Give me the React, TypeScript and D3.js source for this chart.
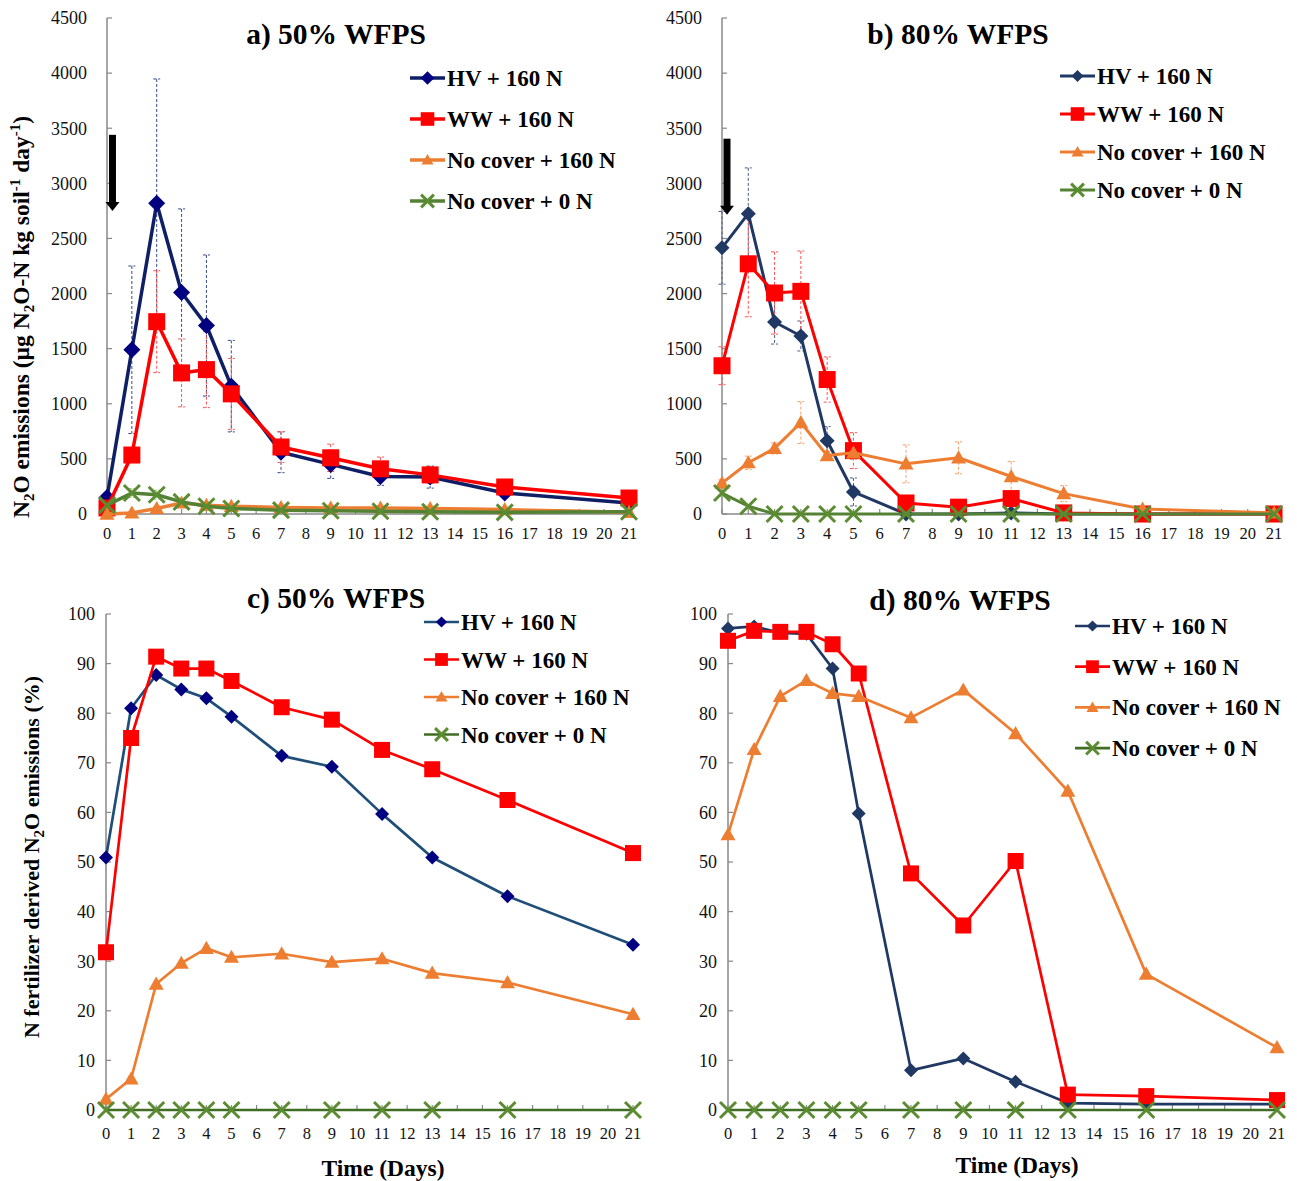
import React from 'react';
import * as d3 from 'd3';

// ---------- DATA ----------
const days = [0, 1, 2, 3, 4, 5, 7, 9, 11, 13, 16, 21];
const xTickLabels = ['0','1','2','3','4','5','6','7','8','9','10','11','12','13','14','15','16','17','18','19','20','21'];
const emissionTicks = [0, 500, 1000, 1500, 2000, 2500, 3000, 3500, 4000, 4500];
const percentTicks = [0, 10, 20, 30, 40, 50, 60, 70, 80, 90, 100];
const seriesNames = ['HV + 160 N', 'WW + 160 N', 'No cover + 160 N', 'No cover + 0 N'];

// a) 50% WFPS – N2O emissions
const aHV = [150, 1490, 2820, 2010, 1710, 1160, 560, 450, 340, 335, 190, 100];
const aWW = [55, 535, 1745, 1280, 1310, 1090, 608, 510, 410, 355, 245, 145];
const aNC160 = [0, 10, 50, 100, 80, 70, 60, 55, 55, 50, 40, 15];
const aNC0 = [80, 190, 175, 110, 70, 50, 35, 30, 25, 20, 15, 20];
const aHVErr = [40, 760, 1127, 758, 640, 415, 185, 127, 80, 100, 30, 20];
const aWWErr = [30, 50, 462, 308, 345, 322, 140, 124, 107, 77, 30, 20];
const aNC160Err = [10, 10, 20, 30, 25, 20, 20, 20, 20, 20, 15, 10];
const aNC0Err = [20, 40, 40, 30, 20, 15, 10, 10, 10, 10, 5, 5];

// b) 80% WFPS – N2O emissions
const bHV = [2415, 2725, 1742, 1615, 665, 200, 0, 0, 10, 0, 0, 0];
const bWW = [1345, 2270, 2005, 2020, 1220, 575, 100, 62, 140, 10, 0, 0];
const bNC160 = [280, 465, 595, 830, 530, 555, 455, 510, 340, 185, 45, 10];
const bNC0 = [190, 70, 0, 0, 0, 0, 0, 0, 0, 0, 0, 0];
const bHVErr = [330, 415, 200, 136, 128, 127, 10, 10, 10, 0, 0, 0];
const bWWErr = [172, 481, 373, 366, 205, 163, 30, 20, 40, 10, 0, 0];
const bNC160Err = [30, 60, 50, 190, 40, 60, 172, 145, 136, 72, 20, 10];
const bNC0Err = [30, 20, 0, 0, 0, 0, 0, 0, 0, 0, 0, 0];

// c) 50% WFPS – fertilizer-derived share (%)
const cHV = [50.9, 81.0, 87.7, 84.8, 83.0, 79.3, 71.4, 69.2, 59.7, 50.9, 43.1, 33.3];
const cWW = [31.8, 75.0, 91.4, 89.0, 89.0, 86.5, 81.2, 78.7, 72.6, 68.7, 62.5, 51.8];
const cNC160 = [2.2, 6.3, 25.4, 29.6, 32.6, 30.8, 31.5, 29.8, 30.5, 27.6, 25.7, 19.3];
const cNC0 = [0, 0, 0, 0, 0, 0, 0, 0, 0, 0, 0, 0];

// d) 80% WFPS – fertilizer-derived share (%)
const dHV = [97.1, 97.5, 96.2, 96.0, 89.0, 59.8, 8.0, 10.4, 5.7, 1.4, 1.2, 1.2];
const dWW = [94.6, 96.6, 96.4, 96.4, 93.9, 88.0, 47.7, 37.2, 50.2, 3.1, 2.8, 2.0];
const dNC160 = [55.5, 72.7, 83.4, 86.6, 84.0, 83.4, 79.1, 84.7, 75.9, 64.3, 27.4, 12.6];
const dNC0 = [0, 0, 0, 0, 0, 0, 0, 0, 0, 0, 0, 0];

// fertilizer application arrows [day, top value, tip value]
const aArrow = [0.22, 3440, 2750];
const bArrow = [0.19, 3405, 2715];

// ---------- STYLE ----------
const FONT = '"Liberation Serif", "Times New Roman", serif';
const AXIS = '#888888';
const ORANGE = '#ED7D31';
const RED = '#FF0000';
const GREEN_M = '#5B8C32';

type Series = {
  values: number[];
  err?: number[];
  kind: 'diamond' | 'square' | 'triangle' | 'cross';
  line: string;
  marker: string;
  errColor?: string;
};

type PanelCfg = {
  title: string;
  titleX: number;
  titleY: number;
  xRange: [number, number];
  yRange: [number, number];
  yMax: number;
  yTicks: number[];
  yLabelRight: number;
  xLabelY: number;
  series: Series[];
  legend: { x: number; y0: number; dy: number };
  arrow?: number[];
  lw: number;
  ms: { diamond: number; square: number; triangle: number; cross: number };
};

function Marker({ kind, x, y, s, color }: { kind: string; x: number; y: number; s: number; color: string }) {
  if (kind === 'diamond') {
    return <path d={`M${x},${y - s}L${x + s},${y}L${x},${y + s}L${x - s},${y}Z`} fill={color} />;
  }
  if (kind === 'square') {
    return <rect x={x - s} y={y - s} width={2 * s} height={2 * s} fill={color} />;
  }
  if (kind === 'triangle') {
    return <path d={`M${x},${y - s}L${x + s},${y + s * 0.75}L${x - s},${y + s * 0.75}Z`} fill={color} />;
  }
  return (
    <g stroke={color} strokeWidth={3}>
      <line x1={x - s} y1={y - s} x2={x + s} y2={y + s} />
      <line x1={x - s} y1={y + s} x2={x + s} y2={y - s} />
    </g>
  );
}

function Panel({ cfg }: { cfg: PanelCfg }) {
  const x = d3.scaleLinear().domain([0, 21]).range(cfg.xRange);
  const y = d3.scaleLinear().domain([0, cfg.yMax]).range(cfg.yRange);
  const line = d3
    .line<number>()
    .x((_, i) => x(days[i]))
    .y((v) => y(v));
  const y0 = y(0);
  const xTickVals = xTickLabels.map((t) => +t);

  return (
    <g>
      {/* axes */}
      <line x1={x(0)} y1={y(0)} x2={x(0)} y2={y(cfg.yMax)} stroke={AXIS} strokeWidth={1.5} />
      <line x1={x(0)} y1={y0} x2={x(21)} y2={y0} stroke={AXIS} strokeWidth={1.5} />
      {cfg.yTicks.map((t) => (
        <g key={'yt' + t}>
          <line x1={x(0)} x2={x(0) + 5} y1={y(t)} y2={y(t)} stroke={AXIS} strokeWidth={1.2} />
          <text x={cfg.yLabelRight} y={y(t)} dy="0.35em" textAnchor="end" fontSize={18} fontFamily={FONT} fill="#111">
            {t}
          </text>
        </g>
      ))}
      {xTickVals.map((t, i) => (
        <g key={'xt' + t}>
          <line x1={x(t)} x2={x(t)} y1={y0} y2={y0 - 5} stroke={AXIS} strokeWidth={1.2} />
          <text x={x(t)} y={cfg.xLabelY} dy="0.35em" textAnchor="middle" fontSize={16.5} fontFamily={FONT} fill="#111">
            {xTickLabels[i]}
          </text>
        </g>
      ))}

      {/* error bars */}
      {cfg.series.map((s, si) =>
        s.err
          ? s.values.map((v, i) => {
              const e = s.err![i];
              if (!e) return null;
              const cx = x(days[i]);
              const top = y(v + e);
              const bot = y(Math.max(0, v - e));
              return (
                <g key={`e${si}-${i}`} stroke={s.errColor} strokeWidth={1} strokeDasharray="3,2" fill="none">
                  <line x1={cx} x2={cx} y1={top} y2={bot} />
                  <line x1={cx - 3.5} x2={cx + 3.5} y1={top} y2={top} />
                  <line x1={cx - 3.5} x2={cx + 3.5} y1={bot} y2={bot} />
                </g>
              );
            })
          : null
      )}

      {/* series */}
      {cfg.series.map((s, si) => (
        <g key={'s' + si}>
          <path d={line(s.values) || ''} fill="none" stroke={s.line} strokeWidth={cfg.lw} strokeLinejoin="round" />
          {s.values.map((v, i) => (
            <Marker key={i} kind={s.kind} x={x(days[i])} y={y(v)} s={cfg.ms[s.kind]} color={s.marker} />
          ))}
        </g>
      ))}

      {/* arrow */}
      {cfg.arrow ? (
        <g fill="#000">
          <rect x={x(cfg.arrow[0]) - 3.5} y={y(cfg.arrow[1])} width={7} height={y(cfg.arrow[2]) - y(cfg.arrow[1]) - 8} />
          <path
            d={`M${x(cfg.arrow[0]) - 7},${y(cfg.arrow[2]) - 9}L${x(cfg.arrow[0]) + 7},${y(cfg.arrow[2]) - 9}L${x(cfg.arrow[0])},${y(cfg.arrow[2])}Z`}
          />
        </g>
      ) : null}

      {/* title */}
      <text x={cfg.titleX} y={cfg.titleY} dy="0.35em" textAnchor="middle" fontSize={29.5} fontWeight="bold" fontFamily={FONT} fill="#000">
        {cfg.title}
      </text>

      {/* legend */}
      {cfg.series.map((s, si) => {
        const ly = cfg.legend.y0 + si * cfg.legend.dy;
        const lx = cfg.legend.x;
        return (
          <g key={'l' + si}>
            <line x1={lx} x2={lx + 35} y1={ly} y2={ly} stroke={s.line} strokeWidth={cfg.lw} />
            <Marker kind={s.kind} x={lx + 17.5} y={ly} s={cfg.ms[s.kind] * 0.8} color={s.marker} />
            <text x={lx + 37} y={ly} dy="0.35em" fontSize={23} fontWeight="bold" fontFamily={FONT} fill="#000">
              {seriesNames[si]}
            </text>
          </g>
        );
      })}
    </g>
  );
}

const panelA: PanelCfg = {
  title: 'a) 50% WFPS',
  titleX: 336,
  titleY: 34,
  xRange: [107, 629],
  yRange: [514, 18],
  yMax: 4500,
  yTicks: emissionTicks,
  yLabelRight: 87,
  xLabelY: 533,
  lw: 3.5,
  ms: { diamond: 8.5, square: 8.5, triangle: 7.5, cross: 8 },
  legend: { x: 410, y0: 78, dy: 41 },
  arrow: aArrow,
  series: [
    { values: aHV, err: aHVErr, kind: 'diamond', line: '#0E1F66', marker: '#000080', errColor: '#34498A' },
    { values: aWW, err: aWWErr, kind: 'square', line: RED, marker: RED, errColor: '#FF5050' },
    { values: aNC160, err: aNC160Err, kind: 'triangle', line: ORANGE, marker: ORANGE, errColor: '#F4A36B' },
    { values: aNC0, err: aNC0Err, kind: 'cross', line: '#548235', marker: GREEN_M, errColor: '#8DB56A' },
  ],
};

const panelB: PanelCfg = {
  title: 'b) 80% WFPS',
  titleX: 958,
  titleY: 34,
  xRange: [722, 1274],
  yRange: [514, 18],
  yMax: 4500,
  yTicks: emissionTicks,
  yLabelRight: 702,
  xLabelY: 533,
  lw: 3,
  ms: { diamond: 7.5, square: 8.5, triangle: 7.5, cross: 8 },
  legend: { x: 1060, y0: 76, dy: 38 },
  arrow: bArrow,
  series: [
    { values: bHV, err: bHVErr, kind: 'diamond', line: '#1F3864', marker: '#1F3864', errColor: '#4A5D8A' },
    { values: bWW, err: bWWErr, kind: 'square', line: RED, marker: RED, errColor: '#FF5050' },
    { values: bNC160, err: bNC160Err, kind: 'triangle', line: ORANGE, marker: ORANGE, errColor: '#F4A36B' },
    { values: bNC0, err: bNC0Err, kind: 'cross', line: '#548235', marker: GREEN_M, errColor: '#8DB56A' },
  ],
};

const panelC: PanelCfg = {
  title: 'c) 50% WFPS',
  titleX: 336,
  titleY: 598,
  xRange: [106, 633],
  yRange: [1110, 614],
  yMax: 100,
  yTicks: percentTicks,
  yLabelRight: 95,
  xLabelY: 1133,
  lw: 2.7,
  ms: { diamond: 7, square: 8, triangle: 7.5, cross: 8 },
  legend: { x: 424, y0: 622, dy: 37.5 },
  series: [
    { values: cHV, kind: 'diamond', line: '#1F4E79', marker: '#000080' },
    { values: cWW, kind: 'square', line: RED, marker: RED },
    { values: cNC160, kind: 'triangle', line: ORANGE, marker: ORANGE },
    { values: cNC0, kind: 'cross', line: '#3F6E22', marker: GREEN_M },
  ],
};

const panelD: PanelCfg = {
  title: 'd) 80% WFPS',
  titleX: 960,
  titleY: 600,
  xRange: [728, 1277],
  yRange: [1110, 614],
  yMax: 100,
  yTicks: percentTicks,
  yLabelRight: 717,
  xLabelY: 1133,
  lw: 2.7,
  ms: { diamond: 7, square: 8, triangle: 7.5, cross: 8 },
  legend: { x: 1075, y0: 626, dy: 40.7 },
  series: [
    { values: dHV, kind: 'diamond', line: '#1F3864', marker: '#1F3864' },
    { values: dWW, kind: 'square', line: RED, marker: RED },
    { values: dNC160, kind: 'triangle', line: ORANGE, marker: ORANGE },
    { values: dNC0, kind: 'cross', line: '#3F6E22', marker: GREEN_M },
  ],
};

export default function App() {
  return (
    <svg
      width={1297}
      height={1181}
      viewBox="0 0 1297 1181"
      style={{ position: 'absolute', left: 0, top: 0, background: '#fff' }}
    >
      <rect width={1297} height={1181} fill="#fff" />
      <Panel cfg={panelA} />
      <Panel cfg={panelB} />
      <Panel cfg={panelC} />
      <Panel cfg={panelD} />

      {/* y axis titles */}
      <text
        transform="translate(29,317) rotate(-90)"
        textAnchor="middle"
        fontSize={23.5}
        fontWeight="bold"
        fontFamily={FONT}
        fill="#000"
      >
        N<tspan fontSize={15} dy={5}>2</tspan>
        <tspan dy={-5}>O emissions (µg N</tspan>
        <tspan fontSize={15} dy={5}>2</tspan>
        <tspan dy={-5}>O-N kg soil</tspan>
        <tspan fontSize={15} dy={-9}>-1</tspan>
        <tspan dy={9}> day</tspan>
        <tspan fontSize={15} dy={-9}>-1</tspan>
        <tspan dy={9}>)</tspan>
      </text>
      <text
        transform="translate(39,857) rotate(-90)"
        textAnchor="middle"
        fontSize={22}
        fontWeight="bold"
        fontFamily={FONT}
        fill="#000"
      >
        N fertilizer derived N<tspan fontSize={15} dy={5}>2</tspan>
        <tspan dy={-5}>O emissions  (%)</tspan>
      </text>

      {/* x axis titles */}
      <text x={383} y={1168} dy="0.35em" textAnchor="middle" fontSize={23.5} fontWeight="bold" fontFamily={FONT} fill="#000">
        Time (Days)
      </text>
      <text x={1017} y={1165} dy="0.35em" textAnchor="middle" fontSize={23.5} fontWeight="bold" fontFamily={FONT} fill="#000">
        Time (Days)
      </text>
    </svg>
  );
}
